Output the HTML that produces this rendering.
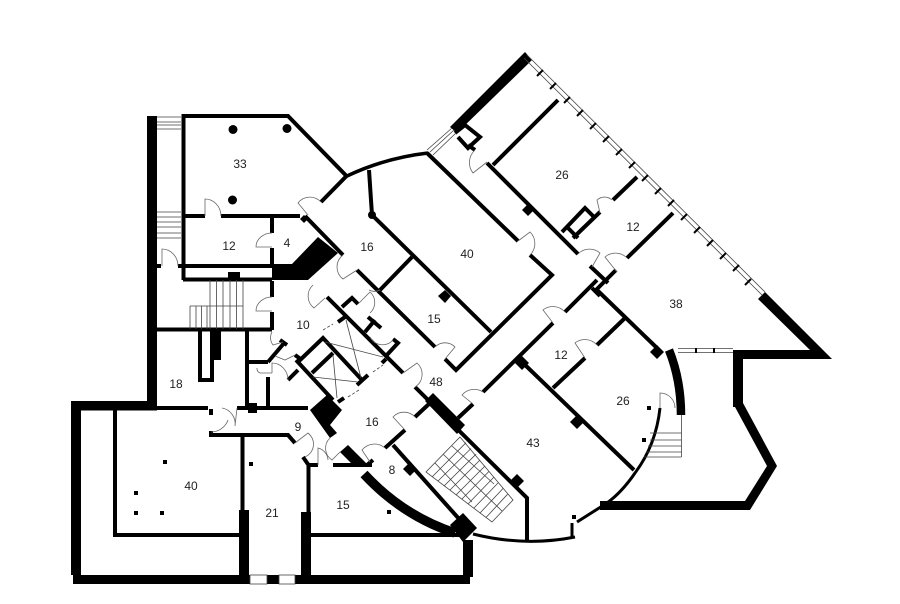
<!DOCTYPE html>
<html><head><meta charset="utf-8"><style>
html,body{margin:0;padding:0;background:#fff}
svg{display:block}
text{font-family:"Liberation Sans",sans-serif;font-size:12px;fill:#222;text-anchor:middle}
.w{fill:none;stroke:#000;stroke-width:4;stroke-linejoin:miter;stroke-linecap:butt}
.t{fill:none;stroke:#444;stroke-width:.8}
.d{fill:none;stroke:#666;stroke-width:.8}
.k{fill:#000;stroke:none}
</style></head><body>
<svg width="900" height="604" viewBox="0 0 900 604" xmlns="http://www.w3.org/2000/svg">
<g class="k">
<rect x="147" y="116" width="10" height="292"/>
<rect x="71" y="401" width="86" height="9.5"/>
<rect x="71" y="401" width="10" height="174"/>
<rect x="73" y="575" width="177" height="9"/>
<rect x="267" y="575" width="12" height="9"/>
<rect x="295" y="575" width="175" height="9"/>
<rect x="239" y="510" width="10" height="65"/>
<rect x="301" y="512" width="10" height="63"/>
<rect x="463" y="540" width="10" height="37"/>
<polygon points="318,237 338,253 308,280 272,280 272,264 292,264"/>
<rect x="228" y="272" width="12" height="7"/>
<rect x="210" y="330" width="11" height="30"/>
<rect x="248" y="403" width="9" height="10"/>
<rect x="209" y="409" width="4" height="6"/>
<rect x="209" y="431" width="4" height="6"/>
<polygon points="310,410 327,395 342,410 330,425 337,433 330,438"/>
<polygon points="340,452 348,445 368,465 353,465"/>
<polygon points="450,525 463,513 477,528 463,542"/>
<polygon points="433,393 465,425 457,434 425,401"/>
<polygon points="525,52 532,60 457,133 450,127"/>
<polygon points="765,292 832,359 733,359 733,350 810,350 758,299"/>
<rect x="733" y="359" width="10" height="48"/>
<polygon points="735,407 743,403 777,466 750,510 600,510 600,501 745,501 767,466"/>
<polygon points="445,290 451,296 445,303 438,296"/>
<polygon points="528,204 534,210 528,216 522,210"/>
<polygon points="522,356 529,363 522,370 515,363"/>
<polygon points="577,415 584,422 577,429 570,422"/>
<polygon points="657,345 664,352 657,359 650,352"/>
<polygon points="517,474 524,481 517,488 510,481"/>
<polygon points="410,462 417,469 410,476 403,469"/>
<polygon points="304,215 308,219 304,223 300,219"/>
<circle cx="233" cy="129.5" r="4.5"/><circle cx="287" cy="128.5" r="4.5"/><circle cx="232.500" cy="200" r="4.5"/>
<circle cx="372" cy="215" r="4"/>
<rect x="163" y="460" width="4" height="4"/><rect x="134" y="491" width="4" height="4"/>
<rect x="134" y="511" width="4" height="4"/><rect x="160" y="511" width="4" height="4"/>
<rect x="249" y="462" width="4" height="4"/><rect x="387" y="510" width="4" height="4"/>
<rect x="647" y="406" width="4" height="4"/><rect x="642" y="438" width="4" height="4"/>
<rect x="572" y="515" width="4" height="4"/>
</g>
<path d="M364,474 Q403,516 455,533" fill="none" stroke="#000" stroke-width="9.5"/>
<path d="M669,350 Q681,380 681,415" fill="none" stroke="#000" stroke-width="8.5"/>
<g class="w">
<path d="M183.500,280 V116 H288 L346.500,176 L321,202"/>
<path d="M347,176 Q385,158 428,153" stroke-width="3.500"/>
<path d="M183,216 H205 M221,216 H300 M305,216 L343,255"/>
<path d="M272,216 V233 M272,248 V267 M272,281 V297 M272,312 V330"/>
<path d="M157,266 H161 M178,266 H272 M183,279.500 H272"/>
<path d="M157,329.500 H272"/>
<path d="M200,330 V380 H212 V358"/>
<path d="M157,408 H208 M237,408 H308"/>
<path d="M209,435 H288 L295,443"/>
<path d="M115,410 V535 H240"/>
<path d="M242.500,436 V510"/>
<path d="M247,330 V408 M248,362 H268 M268,377 V408 M268,362 L285,342 M280,340 L287,345"/>
<path d="M303,457 L308.500,465 V512 M308,465 H318 M333,465 H372 M367,465 L373,460"/>
<path d="M310,535 H460"/>
<path d="M369,170 L372,215 L491,332"/>
<path d="M357,270 L435,347 M445,359 L456,370 L552,275 L530,255 M518,241 L427,153"/>
<path d="M412,257 L380,290"/>
<path d="M327,297 L403,373 M415,387 L527,498 V540"/>
<path d="M298,362 L323,338 L362,380 M296,360 L333,400 M312,373 L333,353 M357,385 L368,375"/>
<path d="M338,322 L345,317 M342,307 L352,298 L358,304 M365,332 L375,320 M368,317 L381,328 M385,357 L398,343 L393,339 M382,363 L386,359 M338,402 L344,398 M288,380 L298,370 M295,355 L302,360"/>
<path d="M385,448 L405,430 M415,417 L430,403 M458,418 L473,404 M483,392 L553,323 M565,312 L597,280"/>
<path d="M590,266 L608,283 M616,270 L594,292 M597,290 L657,348 M592,288 L600,296"/>
<path d="M393,445 L460,520"/>
<path d="M522,362 L634,470 M625,318 L597,345 M585,358 L553,388"/>
<path d="M493,165 L558,100 M487,163 L578,254 M613,200 L637,177 M627,258 L673,213"/>
<path d="M562,232 L585,208 L593,216 M600,212 L573,238 M567,227 L578,238"/>
<path d="M455,133 L465,125 L480,137 L468,148 L458,137 M468,145 L475,150"/>
<path d="M607,503 L577,522 M572,523 V537" stroke-width="3"/>
<path d="M473,534 Q525,547 575,537" stroke-width="3"/>
<path d="M660,408 Q656,445 635,473 Q622,492 607,503" stroke-width="3"/>
</g>
<g class="t">
<path d="M527,55 L765,292 M524,58 L762,295"/>
<path d="M427,150 L452,128 M430,152 L454,130 M433,155 L456,133"/>
<path d="M678,348.500 H733 M678,352.500 H733"/>
<rect x="250" y="575" width="17" height="9" fill="#fff"/><rect x="279" y="575" width="16" height="9" fill="#fff"/>
<path d="M157,117 H181 M157,122 H181 M157,125 H181 M157,129 H181"/>
<path d="M157,212 H181 M157,217 H181 M157,222 H181 M157,227 H181 M157,233 H181 M157,238 H181"/>
<path d="M210,280 V329 M216.500,280 V329 M223,280 V329 M230,280 V329 M236.500,280 V329 M243,280 V329"/>
<path d="M190,306 H243 M190,306 V329 M196,306 V329 M201.500,306 V329 M207,306 V329"/>
<path d="M650,433 H681.500 M650,440 H681.500 M648,446 H681.500 M646,452 H681.500 M644,457 H681.500 M681.500,415 V457"/>
<polygon points="460,437 513,500 492,522 426,472"/>
<path d="M443.500,454.500 L502,511"/>
<path d="M466,442.700 L432,477 M471,448.500 L438,481 M476,454.200 L444,486 M480,460 L450,490 M485,466 L456,495 M489,471.400 L462,499 M494,477 L468,504 M498,483 L474,508 M503,488.500 L480,513 M507.500,494.300 L486,517.500"/>
<path d="M452,446 L494,484 M435,463 L472,502"/>
<path d="M346,320 L361,378 M325,342 L383,357 M333,355 L337,398 M313,377 L358,382"/>
<path d="M323,330 L333,324 M348,397 L359,390 M373,372 L383,365" stroke-dasharray="3 2"/>
</g>
<g stroke="#000" stroke-width="2" fill="none">
<path d="M537,76 L543,70 M550,89 L556,83 M564,103 L570,97 M577,116 L583,110 M590,129 L596,123 M603,142 L609,136 M616,155 L622,149 M629,168 L635,162 M642,181 L648,175 M655,194 L661,188 M668,206 L674,200 M681,220 L687,214 M694,233 L700,227 M707,246 L713,240 M720,259 L726,253 M733,271 L739,265 M745,285 L751,279"/>
<path d="M696,348 V353 M714,348 V353"/>
</g>
<g class="d">
<path d="M205,216 V199 A16,17 0 0 1 221,216"/>
<path d="M162,266 V249 A16,17 0 0 1 178,266"/>
<path d="M272,233 A16,14 0 0 0 256,247 H272"/>
<path d="M272,297 A16,14 0 0 0 256,311 H272"/>
<path d="M308,215 L298,203 A15,15 0 0 1 321,202"/>
<path d="M357,270 L343,279 A15,15 0 0 1 343,255"/>
<path d="M325,298 L314,308 A15,15 0 0 1 313,285"/>
<path d="M283,342 L273,345 A12,12 0 0 1 272,332"/>
<path d="M272,373 V363 A16,17 0 0 1 288,380 M272,373 H260 A5,5 0 0 1 257,368"/>
<path d="M295,355 L285,360 L275,356"/>
<path d="M237,408 L235,426 A16,16 0 0 0 222,408"/>
<path d="M211,432 A18,18 0 0 0 228,420"/>
<path d="M295,443 L308,433 A14,14 0 0 1 305,457"/>
<path d="M318,465 V448 A13,13 0 0 1 328,460"/>
<path d="M340,452 L332,460 A14,14 0 0 1 330,438"/>
<path d="M370,462 L362,450 A16,16 0 0 1 385,448"/>
<path d="M405,430 L393,417 A15,15 0 0 1 415,417"/>
<path d="M403,373 L417,363 A15,15 0 0 1 415,387"/>
<path d="M473,404 L462,395 A16,16 0 0 1 483,392"/>
<path d="M445,359 L455,347 A14,14 0 0 0 435,347"/>
<path d="M518,241 L530,232 A16,16 0 0 1 530,255"/>
<path d="M475,150 A17,17 0 0 0 473,173 L487,162"/>
<path d="M600,213 L597,200 A11,11 0 0 1 612,200"/>
<path d="M578,254 A16,16 0 0 1 600,253 L592,267"/>
<path d="M627,258 A16,16 0 0 0 605,257 L617,272"/>
<path d="M565,312 A16,16 0 0 0 543,310 L553,323"/>
<path d="M597,345 A16,16 0 0 0 575,343 L585,358"/>
<path d="M660,408 V393 A15,15 0 0 1 675,408"/>
<path d="M358,304 L370,292 A14,14 0 0 1 370,313"/>
<path d="M370,337 A14,14 0 0 0 393,340"/>
<path d="M380,290 A12,12 0 0 1 369,290"/>
</g>
<text x="240" y="168">33</text>
<text x="229" y="250">12</text>
<text x="287" y="247">4</text>
<text x="367" y="251">16</text>
<text x="303" y="329">10</text>
<text x="467" y="258">40</text>
<text x="434" y="323">15</text>
<text x="633" y="231">12</text>
<text x="562" y="179">26</text>
<text x="676" y="308">38</text>
<text x="561" y="359">12</text>
<text x="623" y="405">26</text>
<text x="436" y="386">48</text>
<text x="372" y="426">16</text>
<text x="298" y="431">9</text>
<text x="392" y="474">8</text>
<text x="176" y="388">18</text>
<text x="191" y="490">40</text>
<text x="272" y="517">21</text>
<text x="343" y="509">15</text>
<text x="533" y="447">43</text>
</svg>
</body></html>
